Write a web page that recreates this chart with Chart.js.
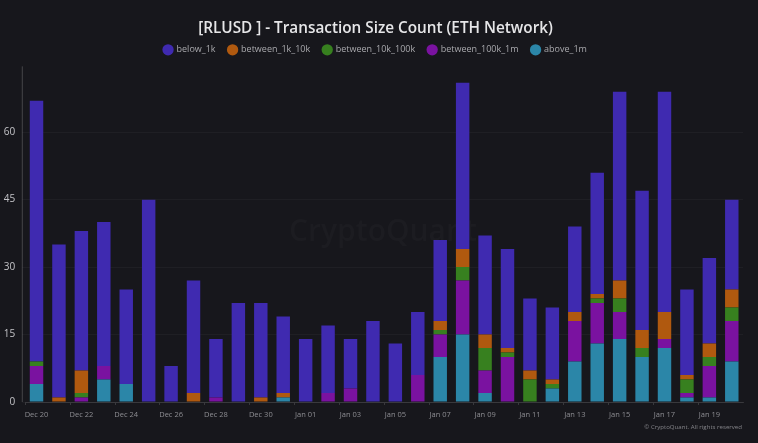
<!DOCTYPE html>
<html lang="en">
<head>
    <meta charset="UTF-8">
    <script src="https://cdn.jsdelivr.net/npm/chart.js"></script>
    <title>RLUSD Transaction Size Count</title>
    <style>
        html, body { margin: 0; padding: 0; background: #17171c; overflow: hidden; }
        canvas { display: block; filter: blur(0.45px); }
    </style>
</head>
<body>
    <canvas id="chart" width="758" height="443"></canvas>
    <script>
        const days = ['Dec 20','Dec 21','Dec 22','Dec 23','Dec 24','Dec 25','Dec 26','Dec 27','Dec 28','Dec 29','Dec 30','Dec 31',
            'Jan 01','Jan 02','Jan 03','Jan 04','Jan 05','Jan 06','Jan 07','Jan 08','Jan 09','Jan 10','Jan 11','Jan 12',
            'Jan 13','Jan 14','Jan 15','Jan 16','Jan 17','Jan 18','Jan 19','Jan 20'];
        const yTicks = [0, 15, 30, 45, 60];

        const above1m =     [4,0,0,5,4,0,0,0,0,0,0,1, 0,0,0,0,0,0,10,15,2,0,0,3, 9,13,14,10,12,1,1,9];
        const btw100k1m =   [4,0,1,3,0,0,0,0,1,0,0,0, 0,2,3,0,0,6,5,12,5,10,0,0, 9,9,6,0,2,1,7,9];
        const btw10k100k =  [1,0,1,0,0,0,0,0,0,0,0,0, 0,0,0,0,0,0,1,3,5,1,5,1, 0,1,3,2,0,3,2,3];
        const btw1k10k =    [0,1,5,0,0,0,0,2,0,0,1,1, 0,0,0,0,0,0,2,4,3,1,2,1, 2,1,4,4,6,1,3,4];
        const below1k =     [58,34,31,32,21,45,8,25,13,22,21,17, 14,15,11,18,13,14,18,37,22,22,16,16, 19,27,42,31,49,19,19,20];

        const mutedGrid = 'rgba(255,255,255,0.035)';

        // watermark sits behind the bars, copyright in the bottom corner
        const extras = {
            id: 'extras',
            // the left padding only centres title and legend, tick labels may still use it
            afterLayout(chart) { chart.scales.y.left = 0; },
            beforeDatasetsDraw(chart) {
                const c = chart.ctx;
                const area = chart.chartArea;
                c.save();
                // y axis line stands a little left of the first category
                c.strokeStyle = 'rgba(255,255,255,0.2)';
                c.beginPath();
                c.moveTo(area.left - 3, area.top + 2);
                c.lineTo(area.left - 3, area.bottom);
                c.stroke();
                c.font = '600 30px "Open Sans"';
                c.fillStyle = 'rgba(255,255,255,0.025)';
                c.textAlign = 'center';
                c.textBaseline = 'middle';
                c.fillText('CryptoQuant', 383, 232);
                c.restore();
            },
            afterDraw(chart) {
                const c = chart.ctx;
                c.save();
                c.font = '6.1px "Open Sans"';
                c.fillStyle = '#85858a';
                c.textAlign = 'right';
                c.textBaseline = 'middle';
                c.fillText('© CryptoQuant. All rights reserved', 742, 427);
                c.restore();
            }
        };

        new Chart(document.getElementById('chart'), {
            type: 'bar',
            plugins: [extras],
            data: {
                labels: days,
                datasets: [
                    { label: 'above_1m', data: above1m, backgroundColor: '#2b86a8' },
                    { label: 'between_100k_1m', data: btw100k1m, backgroundColor: '#7a12a0' },
                    { label: 'between_10k_100k', data: btw10k100k, backgroundColor: '#37801f' },
                    { label: 'between_1k_10k', data: btw1k10k, backgroundColor: '#b0590f' },
                    { label: 'below_1k', data: below1k, backgroundColor: '#3f2ab0' }
                ]
            },
            options: {
                responsive: false,
                animation: false,
                datasets: { bar: { barPercentage: 0.6, categoryPercentage: 1 } },
                layout: { padding: { left: 8, right: 15, top: 19, bottom: 0 } },
                plugins: {
                    title: {
                        display: true,
                        text: '[RLUSD ] - Transaction Size Count (ETH Network)',
                        color: '#e6e6e8',
                        font: { family: '"Open Sans"', size: 15.3, weight: '600' },
                        padding: { top: 0, bottom: -5 }
                    },
                    legend: {
                        reverse: true,
                        position: 'top',
                        labels: {
                            usePointStyle: true,
                            pointStyle: 'circle',
                            boxWidth: 8,
                            boxHeight: 8,
                            padding: 13,
                            color: '#a9a9ad',
                            font: { family: '"Open Sans"', size: 9 }
                        }
                    },
                    tooltip: { enabled: false }
                },
                scales: {
                    x: {
                        stacked: true,
                        afterFit(scale) { scale.height = 41; },
                        border: { color: 'rgba(255,255,255,0.12)' },
                        grid: {
                            drawOnChartArea: false,
                            tickLength: 3,
                            color: ctx => ctx.index % 2 === 0 ? 'rgba(255,255,255,0.15)' : 'transparent'
                        },
                        ticks: {
                            autoSkip: false,
                            maxRotation: 0,
                            padding: 5,
                            color: '#8d8d92',
                            font: { family: '"Open Sans"', size: 7.5 },
                            callback(value, index) { return index % 2 === 0 ? days[index] : ''; }
                        }
                    },
                    y: {
                        stacked: true,
                        min: 0,
                        max: 75.08,
                        afterFit(scale) { scale.width = 17.3; },
                        afterBuildTicks(scale) { scale.ticks = yTicks.map(v => ({ value: v })); },
                        border: { display: false },
                        grid: { color: mutedGrid, tickLength: 3 },
                        ticks: {
                            padding: 7,
                            color: '#c4c4c8',
                            font: { family: '"Open Sans"', size: 10 }
                        }
                    }
                }
            }
        });
    </script>
</body>
</html>
